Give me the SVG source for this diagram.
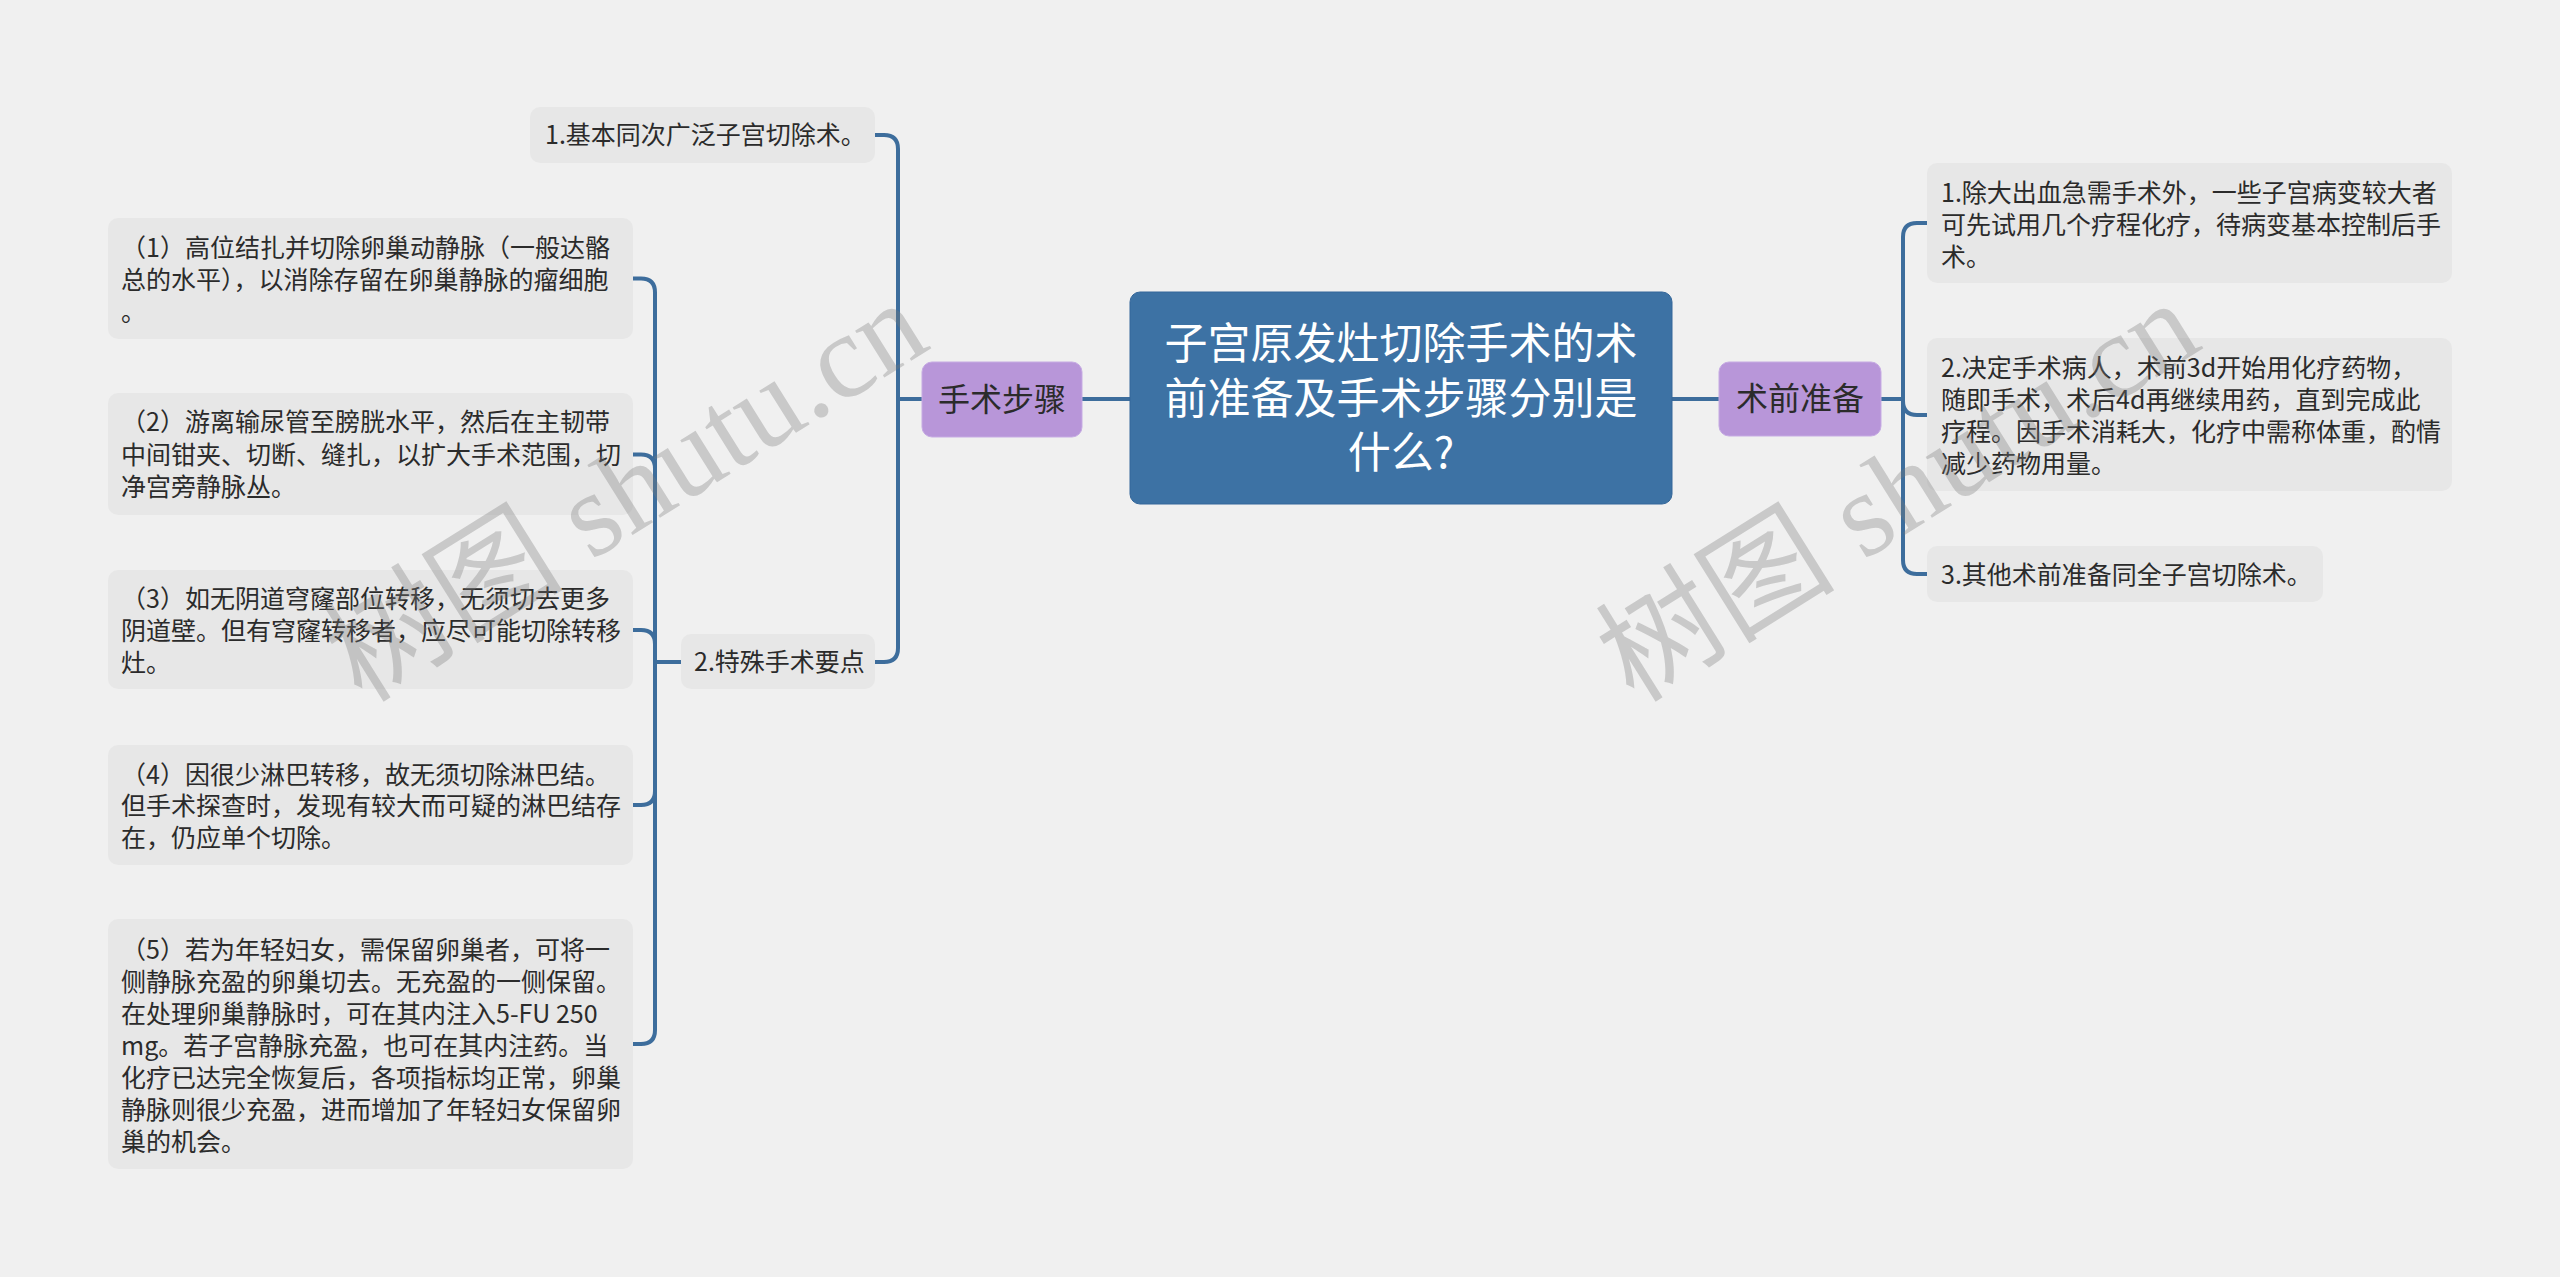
<svg xmlns="http://www.w3.org/2000/svg" width="2560" height="1277" viewBox="0 0 2560 1277">
<style>
.bg{fill:#f0f0f0}
.leaf{fill:#e7e7e7}
.sub{fill:#b896d9;stroke:#c6abe3;stroke-width:1}
.root{fill:#3d72a4;stroke:#35679a;stroke-width:1}
.t{font-family:"Noto Sans CJK SC","Noto Sans",sans-serif;font-size:25px;fill:#2b2b2b}
.ts{font-family:"Noto Sans CJK SC","Noto Sans",sans-serif;font-size:32px;fill:#2b2b2b;text-anchor:middle}
.tr{font-family:"Noto Sans CJK SC","Noto Sans",sans-serif;font-size:43px;fill:#ffffff;text-anchor:middle}
.c{fill:none;stroke:#3d6d9c;stroke-width:4;stroke-linecap:round}
.wm{font-family:"Liberation Serif","Noto Sans CJK SC",serif;font-size:120px;fill:#7a7a7a;fill-opacity:0.33}
</style>
<rect class="bg" x="0" y="0" width="2560" height="1277"/>

<g id="connectors">
<path class="c" d="M1082,399 H1130"/>
<path class="c" d="M1672,399 H1719"/>
<path class="c" d="M922,399 H898 V149 Q898,135 884,135 H875"/>
<path class="c" d="M922,399 H898 V648 Q898,662 884,662 H875"/>
<path class="c" d="M681,662 H655"/>
<path class="c" d="M655,662 V292.5 Q655,278.5 641,278.5 H633"/>
<path class="c" d="M655,662 V468.5 Q655,454.5 641,454.5 H633"/>
<path class="c" d="M655,662 V644 Q655,630 641,630 H633"/>
<path class="c" d="M655,662 V791 Q655,805 641,805 H633"/>
<path class="c" d="M655,662 V1030 Q655,1044 641,1044 H633"/>
<path class="c" d="M1881,399 H1903"/>
<path class="c" d="M1903,399 V237 Q1903,223 1917,223 H1927"/>
<path class="c" d="M1903,399 V401 Q1903,415 1917,415 H1927"/>
<path class="c" d="M1903,399 V560 Q1903,574 1917,574 H1927"/>
</g>

<g id="root">
<rect class="root" x="1130" y="292" width="542" height="212" rx="10"/>
<text class="tr" x="1401" y="359">子宫原发灶切除手术的术</text>
<text class="tr" x="1401" y="414">前准备及手术步骤分别是</text>
<text class="tr" x="1401" y="468">什么?</text>
</g>

<g id="n-steps">
<rect class="sub" x="922" y="362" width="160" height="75" rx="10"/>
<text class="ts" x="1002" y="411">手术步骤</text>
</g>

<g id="n-prep">
<rect class="sub" x="1719" y="362" width="162" height="74" rx="10"/>
<text class="ts" x="1800" y="410">术前准备</text>
</g>

<g id="n-basic">
<rect class="leaf" x="530" y="107" width="345" height="56" rx="10"/>
<text class="t" x="545" y="144">1.基本同次广泛子宫切除术。</text>
</g>

<g id="n-special">
<rect class="leaf" x="681" y="634" width="194" height="55" rx="10"/>
<text class="t" x="694" y="671">2.特殊手术要点</text>
</g>

<g id="n-l1">
<rect class="leaf" x="108" y="218" width="525" height="121" rx="10"/>
<text class="t" x="121" y="257">（1）高位结扎并切除卵巢动静脉（一般达骼</text>
<text class="t" x="121" y="289">总的水平），以消除存留在卵巢静脉的瘤细胞</text>
<text class="t" x="121" y="321">。</text>
</g>

<g id="n-l2">
<rect class="leaf" x="108" y="393" width="525" height="122" rx="10"/>
<text class="t" x="121" y="431">（2）游离输尿管至膀胱水平，然后在主韧带</text>
<text class="t" x="121" y="464">中间钳夹、切断、缝扎，以扩大手术范围，切</text>
<text class="t" x="121" y="496">净宫旁静脉丛。</text>
</g>

<g id="n-l3">
<rect class="leaf" x="108" y="570" width="525" height="119" rx="10"/>
<text class="t" x="121" y="608">（3）如无阴道穹窿部位转移，无须切去更多</text>
<text class="t" x="121" y="640">阴道壁。但有穹窿转移者，应尽可能切除转移</text>
<text class="t" x="121" y="672">灶。</text>
</g>

<g id="n-l4">
<rect class="leaf" x="108" y="745" width="525" height="120" rx="10"/>
<text class="t" x="121" y="784">（4）因很少淋巴转移，故无须切除淋巴结。</text>
<text class="t" x="121" y="815">但手术探查时，发现有较大而可疑的淋巴结存</text>
<text class="t" x="121" y="847">在，仍应单个切除。</text>
</g>

<g id="n-l5">
<rect class="leaf" x="108" y="919" width="525" height="250" rx="10"/>
<text class="t" x="121" y="959">（5）若为年轻妇女，需保留卵巢者，可将一</text>
<text class="t" x="121" y="991">侧静脉充盈的卵巢切去。无充盈的一侧保留。</text>
<text class="t" x="121" y="1023">在处理卵巢静脉时，可在其内注入5-FU 250</text>
<text class="t" x="121" y="1055">mg。若子宫静脉充盈，也可在其内注药。当</text>
<text class="t" x="121" y="1087">化疗已达完全恢复后，各项指标均正常，卵巢</text>
<text class="t" x="121" y="1119">静脉则很少充盈，进而增加了年轻妇女保留卵</text>
<text class="t" x="121" y="1151">巢的机会。</text>
</g>

<g id="n-r1">
<rect class="leaf" x="1927" y="163" width="525" height="120" rx="10"/>
<text class="t" x="1941" y="202">1.除大出血急需手术外，一些子宫病变较大者</text>
<text class="t" x="1941" y="234">可先试用几个疗程化疗，待病变基本控制后手</text>
<text class="t" x="1941" y="266">术。</text>
</g>

<g id="n-r2">
<rect class="leaf" x="1927" y="338" width="525" height="153" rx="10"/>
<text class="t" x="1941" y="377">2.决定手术病人，术前3d开始用化疗药物，</text>
<text class="t" x="1941" y="409">随即手术，术后4d再继续用药，直到完成此</text>
<text class="t" x="1941" y="441">疗程。因手术消耗大，化疗中需称体重，酌情</text>
<text class="t" x="1941" y="473">减少药物用量。</text>
</g>

<g id="n-r3">
<rect class="leaf" x="1927" y="546" width="396" height="56" rx="10"/>
<text class="t" x="1941" y="584">3.其他术前准备同全子宫切除术。</text>
</g>

<g id="watermarks">
<text class="wm" x="362" y="704" transform="rotate(-32 362 704)">树图 shutu.cn</text>
<text class="wm" x="1634" y="704" transform="rotate(-32 1634 704)">树图 shutu.cn</text>
</g>
</svg>
